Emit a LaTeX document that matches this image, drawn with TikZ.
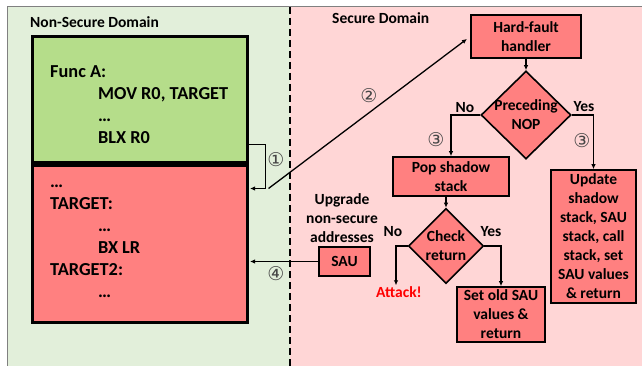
\documentclass[tikz,border=0pt]{standalone}
\usepackage{fontspec}
\setmainfont{Carlito}
\newfontfamily\circfont{DejaVu Sans}
\usepackage{tikz}
\usetikzlibrary{
  arrows.meta,
  positioning,
  shapes.geometric,
}
\definecolor{nsbg}{RGB}{226,239,218}
\definecolor{sbg}{RGB}{255,214,214}
\definecolor{codegreen}{RGB}{181,221,138}
\definecolor{boxred}{RGB}{255,128,128}
\definecolor{numgray}{RGB}{70,70,70}

\begin{document}
\begin{tikzpicture}[x=1pt, y=-1pt,
  font=\fontsize{15.5}{19}\selectfont\bfseries,
  block/.style={draw, line width=1.6pt, fill=boxred, align=center, inner sep=0pt},
  decision/.style={draw, diamond, line width=1.6pt, fill=boxred, align=center, inner sep=-4pt},
  code/.style={draw, line width=3pt, minimum width=215pt},
  codetext/.style={anchor=north west, align=left, inner sep=0pt, font=\fontsize{18.3}{22}\selectfont\bfseries},
  arr/.style={-{Latex[length=5pt, width=4.5pt]}, line width=1.3pt},
  num/.style={text=numgray, font=\circfont\fontsize{19}{19}\selectfont}]
\useasboundingbox (0,0) rectangle (642,366);
\fill[nsbg] (7,7) rectangle (290,366);
\fill[sbg] (290,7) rectangle (642,366);
\draw[gray, line width=1pt] (7,366) -- (7,7) -- (642,7);
\draw[line width=1.5pt, dash pattern=on 7pt off 4pt] (290,7) -- (290,366);

\node[anchor=west, inner sep=0pt] (nsd) at (30,22) {Non-Secure Domain};
\node[anchor=west, inner sep=0pt] (sd) at (332,18.5) {Secure Domain};

\node[code, fill=codegreen, minimum height=126pt] (funcA) at (139.5,100) {};
\node[code, fill=boxred, minimum height=156pt, below=0pt of funcA] (target) {};
\node[codetext] (funcAcode) at (50,61.6)
  {\strut Func A:\\\hspace*{48pt}MOV R0, TARGET\\\hspace*{48pt}…\\\hspace*{48pt}BLX R0};
\node[codetext] (targetcode) at (50,171.6)
  {\strut …\\TARGET:\\\hspace*{48pt}…\\\hspace*{48pt}BX LR\\TARGET2:\\\hspace*{48pt}…};

\node[block, minimum width=110pt, minimum height=43pt] (hardfault) at (526,36.5) {Hard-fault\\handler};
\node[decision, minimum width=90pt, minimum height=88pt] (nop) at (526,115) {Preceding\\NOP};
\node[block, minimum width=116pt, minimum height=39pt] (pop) at (451,176.5) {Pop shadow\\stack};
\node[decision, minimum width=75pt, minimum height=75pt] (check) at (446,246) {Check\\return};
\node[block, minimum width=85pt, minimum height=133pt] (update) at (593.5,236.5)
  {Update\\shadow\\stack, SAU\\stack, call\\stack, set\\SAU values\\\& return};
\node[block, minimum width=88pt, minimum height=55pt] (setold) at (501,314.5) {Set old SAU\\values \&\\return};
\node[text=red, inner sep=1pt] (attack) at (399,292) {Attack!};
\node[block, minimum width=51pt, minimum height=29pt] (sau) at (344.5,261.5) {SAU};
\node[align=center, inner sep=0pt] (upgrade) at (342,218) {Upgrade\\non-secure\\addresses};

\node (no1) at (465,108) {No};
\node (yes1) at (584,107) {Yes};
\node (no2) at (393,232) {No};
\node (yes2) at (491,232) {Yes};

\draw[arr] (hardfault) -- (nop);
\draw[arr] (nop.west) -| (pop.north);
\draw[arr] (nop.east) -| (update.north);
\draw[arr] (pop.south -| check.north) -- (check.north);
\draw[arr] (check.west) -| ([xshift=-3pt]attack.north);
\draw[arr] (check.east) -| (setold.north);
\draw[arr, shorten >=1.5pt] (sau.west) -- (sau.west -| target.east);
\draw[arr, shorten >=1.5pt] ([yshift=20pt]funcA.south east) -- ++(17,0) |- ([yshift=-24pt]target.north east);
\draw[arr, shorten >=4pt] ([xshift=20pt, yshift=-24pt]target.north east) -- (hardfault.west);

\node[num] (n1) at (276,160) {①};
\node[num] (n2) at (369,96) {②};
\node[num] (n3a) at (436,140) {③};
\node[num] (n3b) at (582,141) {③};
\node[num] (n4) at (276,274) {④};
\end{tikzpicture}
\end{document}
